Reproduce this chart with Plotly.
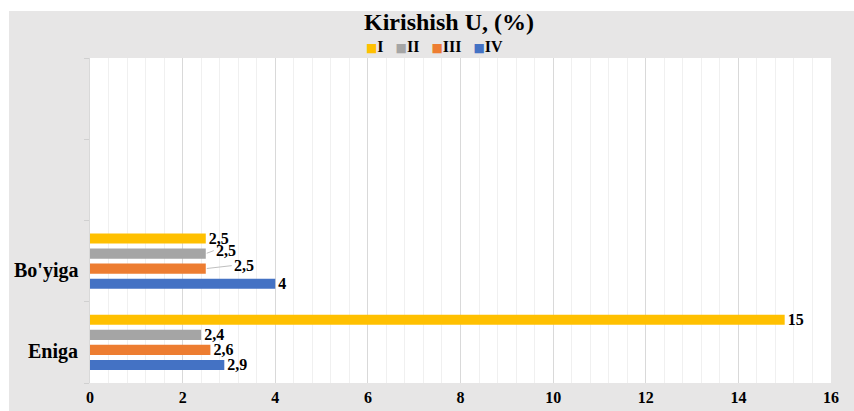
import plotly.graph_objects as go

# Categories (bottom to top); the two blank slots keep the upper part of the axis empty
categories = ["Eniga", "Bo'yiga", " ", "  "]
label_categories = ["Eniga", "Bo'yiga"]

series_names = ["I", "II", "III", "IV"]
series_colors = ["#FFC000", "#A5A5A5", "#ED7D31", "#4472C4"]
values_I = [15, 2.5]
values_II = [2.4, 2.5]
values_III = [2.6, 2.5]
values_IV = [2.9, 4]
series_values = [values_I, values_II, values_III, values_IV]

x_ticks = [0, 2, 4, 6, 8, 10, 12, 14, 16]

SERIF = "Liberation Serif"
LABEL_SIZE = 16

# Plot box in pixels
W, H = 854, 411
ML, MR, MT, MB = 90, 23, 58, 28
PW, PH = W - ML - MR, H - MT - MB

# Data labels pulled to the right with a leader line: (series, category) -> dx px
leader_labels = {("II", "Bo'yiga"): 8, ("III", "Bo'yiga"): 26}
# vertical offset of each bar inside its group (px, upward)
bar_offsets = {"I": 22.5, "II": 7.5, "III": -7.5, "IV": -22.5}


def fmt(v):
    return f"{v:g}".replace(".", ",")


fig = go.Figure()

# Plotly stacks grouped horizontal bars bottom-up, so add IV first to put I on top
for name, color, vals in reversed(list(zip(series_names, series_colors, series_values))):
    texts = [
        "" if (name, cat) in leader_labels else f"<b>{fmt(v)}</b>"
        for cat, v in zip(label_categories, vals)
    ]
    fig.add_trace(go.Bar(
        name=name,
        y=label_categories,
        x=vals,
        orientation="h",
        marker=dict(color=color, line=dict(width=0)),
        text=texts,
        textposition="outside",
        constraintext="none",
        textfont=dict(family=SERIF, size=LABEL_SIZE, color="#000000"),
        cliponaxis=False,
        showlegend=False,
        hoverinfo="x+name",
    ))

# Labels moved off their bar end, joined back by a thin grey leader
for (name, cat), dx in leader_labels.items():
    v = series_values[series_names.index(name)][label_categories.index(cat)]
    fig.add_annotation(
        x=v, y=cat, xref="x", yref="y",
        yshift=bar_offsets[name],
        text=f"<b>{fmt(v)}</b>",
        font=dict(family=SERIF, size=LABEL_SIZE, color="#000000"),
        showarrow=True, arrowhead=0, arrowwidth=1, arrowcolor="#BFBFBF",
        ax=dx, ay=-3, xanchor="left", standoff=1,
    )

fig.update_layout(
    width=W,
    height=H,
    margin=dict(l=ML, r=MR, t=MT, b=MB, autoexpand=False),
    paper_bgcolor="#E7E6E6",
    plot_bgcolor="#FFFFFF",
    separators=",.",
    barmode="group",
    bargap=0.26,
    bargroupgap=0.33,
    showlegend=False,
    title=dict(
        text="<b>Kirishish U, (%)</b>",
        x=(449 - ML) / PW, xref="paper", xanchor="center",
        y=1 - 22 / H, yanchor="middle",
        font=dict(family=SERIF, size=24, color="#000000"),
    ),
    xaxis=dict(
        range=[0, 16],
        tickvals=x_ticks,
        ticktext=[f"<b>{v}</b>" for v in x_ticks],
        tickfont=dict(family=SERIF, size=16, color="#000000"),
        showgrid=True,
        gridcolor="#D9D9D9",
        gridwidth=1,
        zeroline=False,
        showline=False,
        ticks="",
        ticklabelstandoff=3,
        minor=dict(dtick=0.4, tick0=0, showgrid=True, gridcolor="#F0F0F0", gridwidth=1),
        fixedrange=True,
    ),
    yaxis=dict(
        type="category",
        categoryorder="array",
        categoryarray=categories,
        range=[-0.5, 3.5],
        showticklabels=False,
        tickson="boundaries",
        ticks="outside",
        ticklen=5,
        tickcolor="#D0D0D0",
        showgrid=False,
        showline=True,
        linecolor="#D9D9D9",
        linewidth=1,
        zeroline=False,
        fixedrange=True,
    ),
)

# Legend row: small coloured squares with bold series names
gap = "&nbsp;" * 3
legend_text = gap.join(
    f"<span style='font-family:DejaVu Sans;font-size:12px;color:{c}'>■</span><b>{n}</b>"
    for n, c in zip(series_names, series_colors)
)
fig.add_annotation(
    x=(434 - ML) / PW, y=1 + (MT - 46) / PH, xref="paper", yref="paper",
    xanchor="center", yanchor="middle",
    text=legend_text, showarrow=False,
    font=dict(family=SERIF, size=16, color="#000000"),
)

# Category labels, set a little below each group centre
for cat in label_categories:
    fig.add_annotation(
        x=0, xref="paper", xanchor="right", xshift=-10,
        y=cat, yref="y", yanchor="middle", yshift=-9,
        text=f"<b>{cat}</b>",
        showarrow=False,
        font=dict(family=SERIF, size=20, color="#000000"),
    )

# White page strips above and to the left of the grey chart area
top = (PH + MT) / PH
fig.add_shape(type="rect", xref="paper", yref="paper",
              x0=-ML / PW - 0.01, x1=1 + MR / PW + 0.01, y0=top - 11 / PH, y1=top + 0.01,
              fillcolor="#FFFFFF", line=dict(width=0), layer="above")
fig.add_shape(type="rect", xref="paper", yref="paper",
              x0=-ML / PW - 0.01, x1=(9 - ML) / PW, y0=-MB / PH - 0.01, y1=top + 0.01,
              fillcolor="#FFFFFF", line=dict(width=0), layer="above")

fig.write_html("out.html")
